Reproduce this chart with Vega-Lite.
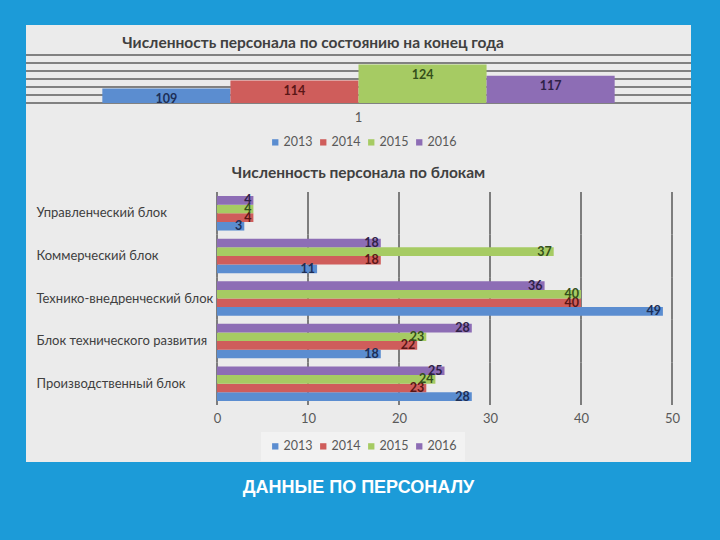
{
  "$schema": "https://vega.github.io/schema/vega-lite/v6.json",
  "background": "#1c9bd8",
  "padding": {"left": 25, "top": 25, "right": 30, "bottom": 45},
  "spacing": 0,
  "title": {"text": "ДАННЫЕ ПО ПЕРСОНАЛУ", "orient": "bottom", "anchor": "middle", "color": "#ffffff", "font": "Liberation Sans", "fontSize": 18, "fontWeight": "bold", "offset": 17},
  "config": {
    "font": "Lato",
    "view": {"stroke": null},
    "title": {"color": "#404040", "font": "Lato", "fontWeight": "bold", "fontSize": 15.5},
    "legend": {"labelFont": "Lato", "labelFontSize": 12.5, "labelColor": "#595959", "symbolType": "square", "symbolSize": 40, "symbolStrokeWidth": 0, "columnPadding": 4, "labelOffset": 2}
  },
  "vconcat": [
    {
      "width": 665,
      "height": 136,
      "view": {"fill": "#ebebeb", "stroke": null},
      "title": {"text": "Численность персонала по состоянию на конец года", "anchor": "start", "dx": 97, "offset": -26},
      "layer": [
        {
          "data": {"values": [{"g": 100}, {"g": 105}, {"g": 110}, {"g": 115}, {"g": 120}, {"g": 125}, {"g": 130}]},
          "mark": {"type": "rule", "color": "#5e5e5e", "strokeWidth": 1.5},
          "encoding": {
            "y": {"field": "g", "type": "quantitative", "axis": null}
          }
        },
        {
          "data": {"values": [
            {"cat": "1", "year": "2013", "value": 109},
            {"cat": "1", "year": "2014", "value": 114},
            {"cat": "1", "year": "2015", "value": 124},
            {"cat": "1", "year": "2016", "value": 117}
          ]},
          "layer": [
            {
              "mark": {"type": "bar"},
              "encoding": {
                "x": {"field": "cat", "type": "nominal", "scale": {"paddingOuter": 0.149, "paddingInner": 0},
                      "axis": {"orient": "bottom", "offset": -58, "domain": false, "ticks": false, "labelPadding": 8, "title": null, "labelAngle": 0, "labelFontSize": 13, "labelColor": "#595959"}},
                "xOffset": {"field": "year", "type": "nominal", "scale": {"paddingInner": 0, "paddingOuter": 0}},
                "y": {"field": "value", "type": "quantitative", "scale": {"domain": [100, 130], "range": [78, 30], "nice": false, "zero": false}, "axis": null},
                "y2": {"datum": 100},
                "color": {"field": "year", "type": "nominal", "scale": {"domain": ["2013", "2014", "2015", "2016"], "range": ["#5b8dd0", "#cf5d5b", "#a6cb63", "#8d6db5"]},
                          "legend": {"orient": "none", "legendX": 243, "legendY": 111, "direction": "horizontal", "title": null, "padding": 0}}
              }
            },
            {
              "mark": {"type": "text", "dy": 10, "fontWeight": "bold", "fontSize": 12.5, "baseline": "middle"},
              "encoding": {
                "x": {"field": "cat", "type": "nominal"},
                "xOffset": {"field": "year", "type": "nominal"},
                "y": {"field": "value", "type": "quantitative"},
                "text": {"field": "value", "type": "quantitative"},
                "color": {"field": "year", "type": "nominal", "scale": {"domain": ["2013", "2014", "2015", "2016"], "range": ["#1d2f57", "#5a1616", "#34501a", "#2f2147"]}, "legend": null}
              }
            }
          ],
          "resolve": {"scale": {"color": "independent"}}
        }
      ],
      "resolve": {"scale": {"color": "independent"}}
    },
    {
      "width": 665,
      "height": 301,
      "view": {"fill": "#ebebeb", "stroke": null},
      "title": {"text": "Численность персонала по блокам", "anchor": "middle", "offset": -20},
      "layer": [
        {
          "data": {"values": [
            {"tick": 0, "block": "Управленческий блок"}, {"tick": 10, "block": "Управленческий блок"}, {"tick": 20, "block": "Управленческий блок"}, {"tick": 30, "block": "Управленческий блок"}, {"tick": 40, "block": "Управленческий блок"}, {"tick": 50, "block": "Управленческий блок"},
            {"tick": 0, "block": "Коммерческий блок"}, {"tick": 10, "block": "Коммерческий блок"}, {"tick": 20, "block": "Коммерческий блок"}, {"tick": 30, "block": "Коммерческий блок"}, {"tick": 40, "block": "Коммерческий блок"}, {"tick": 50, "block": "Коммерческий блок"},
            {"tick": 0, "block": "Технико-внедренческий блок"}, {"tick": 10, "block": "Технико-внедренческий блок"}, {"tick": 20, "block": "Технико-внедренческий блок"}, {"tick": 30, "block": "Технико-внедренческий блок"}, {"tick": 40, "block": "Технико-внедренческий блок"}, {"tick": 50, "block": "Технико-внедренческий блок"},
            {"tick": 0, "block": "Блок технического развития"}, {"tick": 10, "block": "Блок технического развития"}, {"tick": 20, "block": "Блок технического развития"}, {"tick": 30, "block": "Блок технического развития"}, {"tick": 40, "block": "Блок технического развития"}, {"tick": 50, "block": "Блок технического развития"},
            {"tick": 0, "block": "Производственный блок"}, {"tick": 10, "block": "Производственный блок"}, {"tick": 20, "block": "Производственный блок"}, {"tick": 30, "block": "Производственный блок"}, {"tick": 40, "block": "Производственный блок"}, {"tick": 50, "block": "Производственный блок"}
          ]},
          "mark": {"type": "bar", "fill": null, "stroke": "#5a5a5a", "strokeWidth": 1.5},
          "encoding": {
            "x": {"field": "tick", "type": "quantitative"},
            "x2": {"field": "tick"},
            "y": {"field": "block", "type": "nominal"}
          }
        },
        {
          "data": {"values": [
            {"block": "Управленческий блок", "year": "2013", "value": 3},
            {"block": "Управленческий блок", "year": "2014", "value": 4},
            {"block": "Управленческий блок", "year": "2015", "value": 4},
            {"block": "Управленческий блок", "year": "2016", "value": 4},
            {"block": "Коммерческий блок", "year": "2013", "value": 11},
            {"block": "Коммерческий блок", "year": "2014", "value": 18},
            {"block": "Коммерческий блок", "year": "2015", "value": 37},
            {"block": "Коммерческий блок", "year": "2016", "value": 18},
            {"block": "Технико-внедренческий блок", "year": "2013", "value": 49},
            {"block": "Технико-внедренческий блок", "year": "2014", "value": 40},
            {"block": "Технико-внедренческий блок", "year": "2015", "value": 40},
            {"block": "Технико-внедренческий блок", "year": "2016", "value": 36},
            {"block": "Блок технического развития", "year": "2013", "value": 18},
            {"block": "Блок технического развития", "year": "2014", "value": 22},
            {"block": "Блок технического развития", "year": "2015", "value": 23},
            {"block": "Блок технического развития", "year": "2016", "value": 28},
            {"block": "Производственный блок", "year": "2013", "value": 28},
            {"block": "Производственный блок", "year": "2014", "value": 23},
            {"block": "Производственный блок", "year": "2015", "value": 24},
            {"block": "Производственный блок", "year": "2016", "value": 25}
          ]},
          "layer": [
            {
              "mark": {"type": "bar"},
              "encoding": {
                "y": {"field": "block", "type": "nominal",
                      "scale": {"domain": ["Управленческий блок", "Коммерческий блок", "Технико-внедренческий блок", "Блок технического развития", "Производственный блок"], "range": [31, 244], "paddingInner": 0, "paddingOuter": 0},
                      "axis": {"title": null, "domain": false, "ticks": false, "labelAlign": "left", "labelPadding": -10, "labelFontSize": 13, "labelColor": "#404040", "labelLimit": 220}},
                "yOffset": {"field": "year", "type": "nominal", "scale": {"domain": ["2016", "2015", "2014", "2013"], "paddingOuter": 0.47, "paddingInner": 0}},
                "x": {"field": "value", "type": "quantitative", "scale": {"domain": [0, 50], "range": [191, 646], "nice": false},
                      "axis": {"values": [0, 10, 20, 30, 40, 50], "orient": "bottom", "offset": -57, "grid": false, "domain": false, "ticks": false, "labelPadding": 7, "labelFlush": false, "title": null, "labelFontSize": 13, "labelColor": "#595959"}},
                "color": {"field": "year", "type": "nominal", "scale": {"domain": ["2013", "2014", "2015", "2016"], "range": ["#5b8dd0", "#cf5d5b", "#a6cb63", "#8d6db5"]},
                          "legend": {"orient": "none", "legendX": 235, "legendY": 271, "direction": "horizontal", "title": null, "padding": 8, "fillColor": "#f2f2f2"}}
              }
            },
            {
              "mark": {"type": "text", "align": "right", "dx": -2, "fontWeight": "bold", "fontSize": 12.5, "baseline": "middle"},
              "encoding": {
                "y": {"field": "block", "type": "nominal"},
                "yOffset": {"field": "year", "type": "nominal"},
                "x": {"field": "value", "type": "quantitative"},
                "text": {"field": "value", "type": "quantitative"},
                "color": {"field": "year", "type": "nominal", "scale": {"domain": ["2013", "2014", "2015", "2016"], "range": ["#1d2f57", "#5a1616", "#34501a", "#2f2147"]}, "legend": null}
              }
            }
          ],
          "resolve": {"scale": {"color": "independent"}}
        }
      ],
      "resolve": {"scale": {"color": "independent"}}
    }
  ]
}
